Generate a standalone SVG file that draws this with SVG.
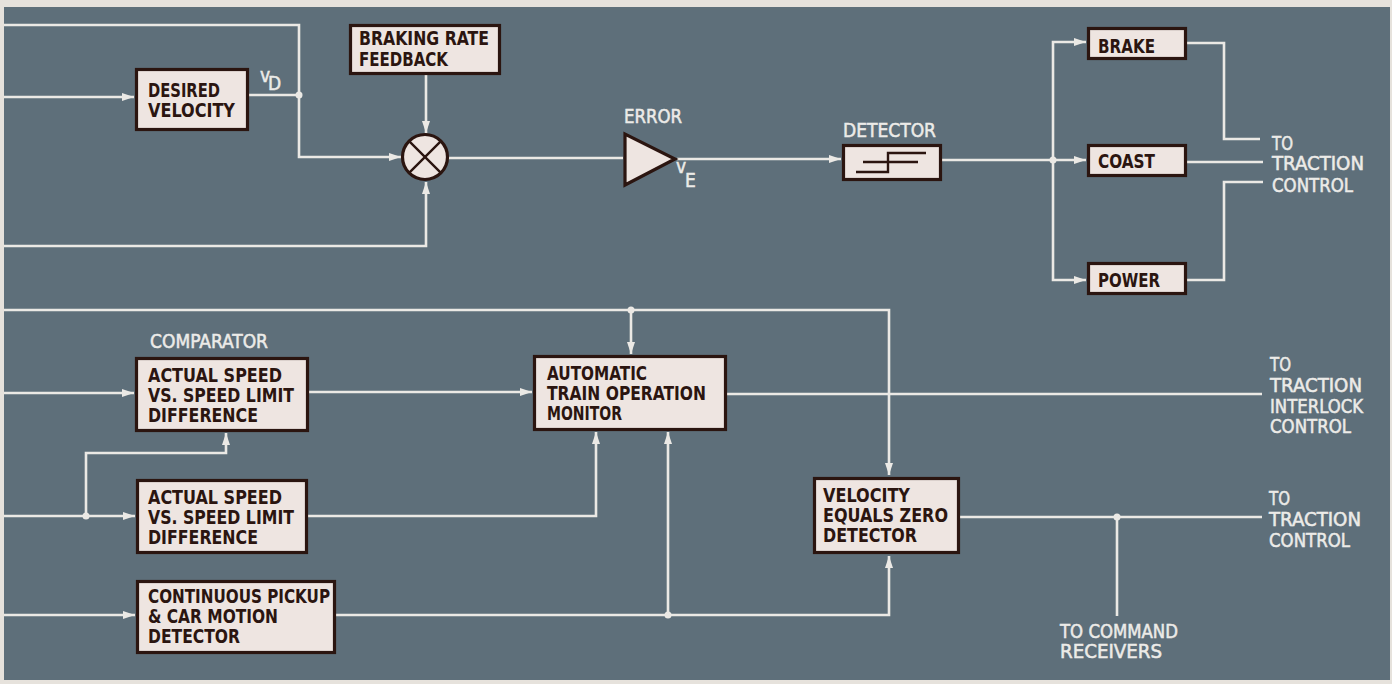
<svg xmlns="http://www.w3.org/2000/svg" width="1392" height="684" viewBox="0 0 1392 684">
<defs>
<style>
.bg{fill:#5e6f7a}
.box{fill:#eee5e1;stroke:#2b1510;stroke-width:3.2}
.bt{font-family:"DejaVu Sans Condensed","DejaVu Sans",sans-serif;font-stretch:condensed;font-weight:bold;font-size:19px;fill:#2b1510}
.wt{font-family:"DejaVu Sans Condensed","DejaVu Sans",sans-serif;font-stretch:condensed;font-size:19px;fill:#ecebe8;stroke:#ecebe8;stroke-width:0.5}
.ln{fill:none;stroke:#ebe9e5;stroke-width:2.6}
.dot{fill:#ebe9e5}
.sym{fill:none;stroke:#2b1510;stroke-width:2.4}
</style>
<marker id="ah" markerUnits="userSpaceOnUse" markerWidth="13" markerHeight="9" refX="12" refY="4" orient="auto">
<path d="M0,0 L12,4 L0,8 z" fill="#ebe9e5"/>
</marker>
</defs>
<rect x="0" y="0" width="1392" height="684" fill="#e6e2dc"/>
<rect class="bg" x="4" y="7" width="1386" height="673"/>

<g id="connectors">
<path class="ln" d="M4,25 H299 V157 H401" marker-end="url(#ah)"/>
<path class="ln" d="M4,97 H134" marker-end="url(#ah)"/>
<path class="ln" d="M249,95 H299"/>
<path class="ln" d="M426,75 V133" marker-end="url(#ah)"/>
<path class="ln" d="M4,246 H426 V182" marker-end="url(#ah)"/>
<path class="ln" d="M448,158 H623"/>
<path class="ln" d="M677,159 H841" marker-end="url(#ah)"/>
<path class="ln" d="M942,160 H1086" marker-end="url(#ah)"/>
<path class="ln" d="M1053,160 V280 H1086" marker-end="url(#ah)"/>
<path class="ln" d="M1053,160 V42 H1086" marker-end="url(#ah)"/>
<path class="ln" d="M1187,43 H1224 V139 H1260"/>
<path class="ln" d="M1187,162 H1263"/>
<path class="ln" d="M1187,280 H1224 V182 H1263"/>
<path class="ln" d="M4,310 H889 V475" marker-end="url(#ah)"/>
<path class="ln" d="M631,310 V354" marker-end="url(#ah)"/>
<path class="ln" d="M4,393 H134" marker-end="url(#ah)"/>
<path class="ln" d="M309,392 H532" marker-end="url(#ah)"/>
<path class="ln" d="M727,394 H1262"/>
<path class="ln" d="M4,516 H135" marker-end="url(#ah)"/>
<path class="ln" d="M86,516 V453 H226 V433" marker-end="url(#ah)"/>
<path class="ln" d="M308,516 H596 V432" marker-end="url(#ah)"/>
<path class="ln" d="M4,615 H135" marker-end="url(#ah)"/>
<path class="ln" d="M336,615 H889 V556" marker-end="url(#ah)"/>
<path class="ln" d="M668,615 V432" marker-end="url(#ah)"/>
<path class="ln" d="M960,517 H1262"/>
<path class="ln" d="M1117,517 V616"/>
<circle class="dot" cx="299" cy="95" r="3.5"/>
<circle class="dot" cx="1053" cy="160" r="3.5"/>
<circle class="dot" cx="631" cy="310" r="3.5"/>
<circle class="dot" cx="86" cy="516" r="3.5"/>
<circle class="dot" cx="668" cy="615" r="3.5"/>
<circle class="dot" cx="1117" cy="517" r="3.5"/>
</g>

<g id="desired-velocity">
<rect class="box" x="136.5" y="69.5" width="111" height="60"/>
<text class="bt" x="148" y="97" textLength="72" lengthAdjust="spacingAndGlyphs">DESIRED</text>
<text class="bt" x="148" y="117" textLength="87" lengthAdjust="spacingAndGlyphs">VELOCITY</text>
</g>
<g id="vd-label">
<text class="wt" x="260" y="82" font-size="15">v</text>
<text class="wt" x="268" y="90" font-size="15">D</text>
</g>
<g id="braking-rate-feedback">
<rect class="box" x="350.5" y="25.5" width="149" height="48"/>
<text class="bt" x="359" y="45" textLength="130" lengthAdjust="spacingAndGlyphs">BRAKING RATE</text>
<text class="bt" x="359" y="66" textLength="89" lengthAdjust="spacingAndGlyphs">FEEDBACK</text>
</g>
<g id="summing-junction">
<circle class="box" cx="425" cy="157" r="22.5"/>
<path class="sym" stroke-width="3" d="M409.1,141.1 L440.9,172.9 M440.9,141.1 L409.1,172.9"/>
</g>
<g id="error-amplifier">
<text class="wt" x="624" y="123" textLength="58" lengthAdjust="spacingAndGlyphs">ERROR</text>
<polygon class="box" stroke-width="3.5" points="625,134 625,185 675,159"/>
<text class="wt" x="676" y="173" font-size="14">v</text>
<text class="wt" x="685" y="187" font-size="15">E</text>
</g>
<g id="detector">
<text class="wt" x="843" y="137" textLength="93" lengthAdjust="spacingAndGlyphs">DETECTOR</text>
<rect class="box" x="843.5" y="145.5" width="97" height="34"/>
<path class="sym" d="M856,172 H888 V153 H926 M863,162 H918"/>
</g>
<g id="brake">
<rect class="box" x="1088.5" y="28.5" width="97" height="30"/>
<text class="bt" x="1098" y="53" textLength="57" lengthAdjust="spacingAndGlyphs">BRAKE</text>
</g>
<g id="coast">
<rect class="box" x="1088.5" y="145.5" width="97" height="30"/>
<text class="bt" x="1098" y="168" textLength="57" lengthAdjust="spacingAndGlyphs">COAST</text>
</g>
<g id="power">
<rect class="box" x="1088.5" y="263.5" width="97" height="30"/>
<text class="bt" x="1098" y="287" textLength="62" lengthAdjust="spacingAndGlyphs">POWER</text>
</g>
<g id="to-traction-control-1">
<text class="wt" x="1272" y="150" textLength="21" lengthAdjust="spacingAndGlyphs">TO</text>
<text class="wt" x="1272" y="170" textLength="92" lengthAdjust="spacingAndGlyphs">TRACTION</text>
<text class="wt" x="1272" y="192" textLength="81" lengthAdjust="spacingAndGlyphs">CONTROL</text>
</g>

<g id="comparator-label">
<text class="wt" x="150" y="348" font-size="18" textLength="118" lengthAdjust="spacingAndGlyphs">COMPARATOR</text>
</g>
<g id="comparator-1">
<rect class="box" x="136.5" y="358.5" width="171" height="72"/>
<text class="bt" x="148" y="382" textLength="134" lengthAdjust="spacingAndGlyphs">ACTUAL SPEED</text>
<text class="bt" x="148" y="402" textLength="146" lengthAdjust="spacingAndGlyphs">VS. SPEED LIMIT</text>
<text class="bt" x="148" y="422" textLength="110" lengthAdjust="spacingAndGlyphs">DIFFERENCE</text>
</g>
<g id="comparator-2">
<rect class="box" x="137.5" y="480.5" width="169" height="72"/>
<text class="bt" x="148" y="504" textLength="134" lengthAdjust="spacingAndGlyphs">ACTUAL SPEED</text>
<text class="bt" x="148" y="524" textLength="146" lengthAdjust="spacingAndGlyphs">VS. SPEED LIMIT</text>
<text class="bt" x="148" y="544" textLength="110" lengthAdjust="spacingAndGlyphs">DIFFERENCE</text>
</g>
<g id="continuous-pickup">
<rect class="box" x="137.5" y="581.5" width="197" height="71"/>
<text class="bt" x="148" y="603" textLength="182" lengthAdjust="spacingAndGlyphs">CONTINUOUS PICKUP</text>
<text class="bt" x="148" y="623" textLength="130" lengthAdjust="spacingAndGlyphs">&amp; CAR MOTION</text>
<text class="bt" x="148" y="643" textLength="92" lengthAdjust="spacingAndGlyphs">DETECTOR</text>
</g>
<g id="ato-monitor">
<rect class="box" x="534.5" y="356.5" width="191" height="73"/>
<text class="bt" x="547" y="380" font-size="18" textLength="100" lengthAdjust="spacingAndGlyphs">AUTOMATIC</text>
<text class="bt" x="547" y="400" font-size="18" textLength="159" lengthAdjust="spacingAndGlyphs">TRAIN OPERATION</text>
<text class="bt" x="547" y="420" font-size="18" textLength="75" lengthAdjust="spacingAndGlyphs">MONITOR</text>
</g>
<g id="velocity-zero-detector">
<rect class="box" x="814.5" y="478.5" width="144" height="74"/>
<text class="bt" x="823" y="502" textLength="87" lengthAdjust="spacingAndGlyphs">VELOCITY</text>
<text class="bt" x="823" y="522" textLength="125" lengthAdjust="spacingAndGlyphs">EQUALS ZERO</text>
<text class="bt" x="823" y="542" textLength="94" lengthAdjust="spacingAndGlyphs">DETECTOR</text>
</g>
<g id="to-traction-interlock-control">
<text class="wt" x="1270" y="371" textLength="21" lengthAdjust="spacingAndGlyphs">TO</text>
<text class="wt" x="1270" y="392" textLength="92" lengthAdjust="spacingAndGlyphs">TRACTION</text>
<text class="wt" x="1270" y="413" textLength="93" lengthAdjust="spacingAndGlyphs">INTERLOCK</text>
<text class="wt" x="1270" y="433" textLength="81" lengthAdjust="spacingAndGlyphs">CONTROL</text>
</g>
<g id="to-traction-control-2">
<text class="wt" x="1269" y="505" textLength="21" lengthAdjust="spacingAndGlyphs">TO</text>
<text class="wt" x="1269" y="526" textLength="92" lengthAdjust="spacingAndGlyphs">TRACTION</text>
<text class="wt" x="1269" y="547" textLength="81" lengthAdjust="spacingAndGlyphs">CONTROL</text>
</g>
<g id="to-command-receivers">
<text class="wt" x="1060" y="638" textLength="118" lengthAdjust="spacingAndGlyphs">TO COMMAND</text>
<text class="wt" x="1060" y="658" textLength="102" lengthAdjust="spacingAndGlyphs">RECEIVERS</text>
</g>
</svg>
